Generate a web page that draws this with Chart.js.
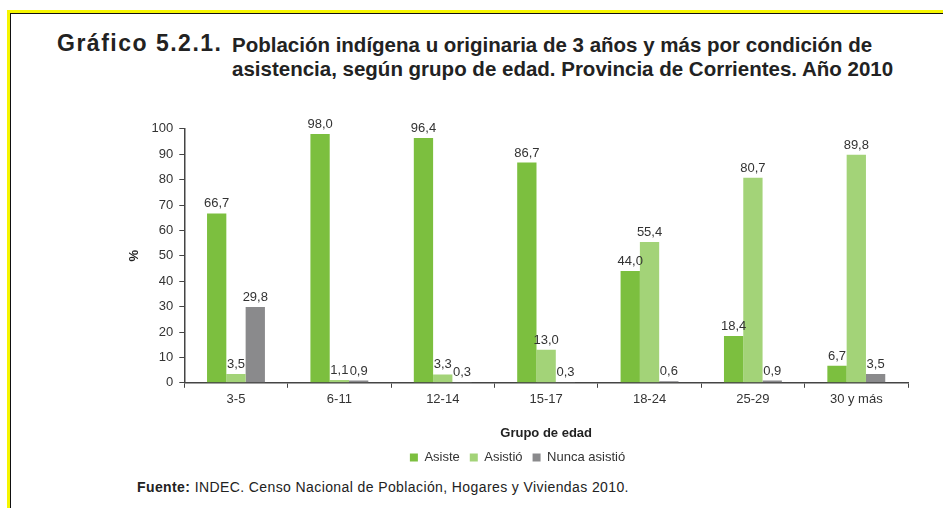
<!DOCTYPE html>
<html>
<head>
<meta charset="utf-8">
<script src="https://cdn.jsdelivr.net/npm/chart.js@4.4.1/dist/chart.umd.min.js"></script>
<style>
  html, body { margin: 0; padding: 0; background: #fff; }
  body { width: 943px; height: 508px; position: relative; overflow: hidden; font-family: "Liberation Sans", Arial, sans-serif; }
  .frame { position: absolute; left: 7px; top: 10px; width: 960px; height: 520px;
           border-left: 3px solid #f5f500; border-top: 3px solid #f5f500; }
  .frame-inner { position: absolute; left: 0; top: 0; width: 100%; height: 100%;
           border-left: 1.5px solid #111; border-top: 1.5px solid #111; }
  .title-num { position: absolute; left: 57px; top: 30px; font-size: 23px; font-weight: bold; color: #222; letter-spacing: 1.5px; }
  .title-txt { position: absolute; left: 232px; top: 33px; font-size: 20.5px; font-weight: bold; color: #222; line-height: 24px; }
  .source { position: absolute; left: 137px; top: 479px; font-size: 14px; color: #222; letter-spacing: 0.4px; }
  #wrap { position: absolute; left: 124px; top: 115px; width: 796px; height: 359px; }
</style>
</head>
<body>
<div class="frame"><div class="frame-inner"></div></div>
<div class="title-num">Gráfico 5.2.1.</div>
<div class="title-txt">Población indígena u originaria de 3 años y más por condición de<br>asistencia, según grupo de edad. Provincia de Corrientes. Año 2010</div>
<div id="wrap"><canvas id="chart"></canvas></div>
<div class="source"><b>Fuente:</b> INDEC. Censo Nacional de Población, Hogares y Viviendas 2010.</div>
<script>
var categories = ["3-5", "6-11", "12-14", "15-17", "18-24", "25-29", "30 y más"];
var asiste = [66.7, 98.0, 96.4, 86.7, 44.0, 18.4, 6.7];
var asistio = [3.5, 1.1, 3.3, 13.0, 55.4, 80.7, 89.8];
var nuncaAsistio = [29.8, 0.9, 0.3, 0.3, 0.6, 0.9, 3.5];
var yTicks = [0, 10, 20, 30, 40, 50, 60, 70, 80, 90, 100];

var valueLabels = {
  id: "valueLabels",
  afterDatasetsDraw: function(chart) {
    var ctx = chart.ctx;
    ctx.save();
    ctx.font = "13px 'Liberation Sans', Arial, sans-serif";
    ctx.fillStyle = "#333";
    ctx.textAlign = "center";
    ctx.textBaseline = "bottom";
    chart.data.datasets.forEach(function(ds, i) {
      chart.getDatasetMeta(i).data.forEach(function(bar, j) {
        var txt = ds.data[j].toFixed(1).replace(".", ",");
        ctx.fillText(txt, bar.x, bar.y - 3);
      });
    });
    ctx.restore();
  }
};

var tickFont = { family: "'Liberation Sans', Arial, sans-serif", size: 13 };

new Chart(document.getElementById("chart").getContext("2d"), {
  type: "bar",
  data: {
    labels: categories,
    datasets: [
      { label: "Asiste", data: asiste, backgroundColor: "#7cbf3f" },
      { label: "Asistió", data: asistio, backgroundColor: "#a3d378" },
      { label: "Nunca asistió", data: nuncaAsistio, backgroundColor: "#8a8a8c" }
    ]
  },
  options: {
    responsive: true,
    maintainAspectRatio: false,
    animation: false,
    categoryPercentage: 0.56,
    barPercentage: 1.0,
    layout: { padding: { top: 6, right: 12, left: 3, bottom: 0 } },
    plugins: {
      legend: {
        position: "bottom",
        labels: { boxWidth: 8, boxHeight: 8, padding: 10, color: "#333", font: tickFont }
      },
      tooltip: { enabled: false }
    },
    scales: {
      x: {
        grid: { drawOnChartArea: false, drawTicks: true, tickLength: 5, color: "#444" },
        border: { color: "#444", width: 1.5 },
        ticks: { color: "#333", font: tickFont, padding: 4 },
        title: { display: true, text: "Grupo de edad", color: "#222",
                 font: { family: "'Liberation Sans', Arial, sans-serif", size: 13, weight: "bold" }, padding: { top: 14, bottom: 0 } }
      },
      y: {
        min: 0,
        max: 100,
        afterBuildTicks: function(axis) { axis.ticks = yTicks.map(function(v) { return { value: v }; }); },
        grid: { drawOnChartArea: false, drawTicks: true, tickLength: 5, color: "#444" },
        border: { color: "#444", width: 1.5 },
        ticks: { color: "#333", font: tickFont, padding: 6 },
        title: { display: true, text: "%", color: "#222",
                 font: { family: "'Liberation Sans', Arial, sans-serif", size: 13, weight: "bold" }, padding: { top: 0, bottom: 3 } }
      }
    }
  },
  plugins: [valueLabels]
});
</script>
</body>
</html>
